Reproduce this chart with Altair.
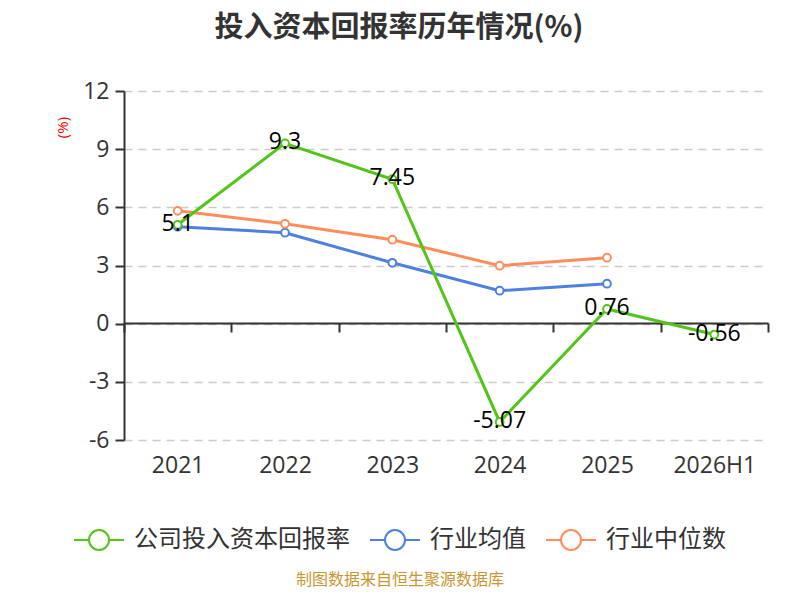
import altair as alt
import pandas as pd

years = ["2021", "2022", "2023", "2024", "2025", "2026H1"]
company = [5.1, 9.3, 7.45, -5.07, 0.76, -0.56]
company_text = ["5.1", "9.3", "7.45", "-5.07", "0.76", "-0.56"]
industry_mean = [5.0, 4.69, 3.14, 1.70, 2.06, None]
industry_median = [5.82, 5.15, 4.33, 2.99, 3.40, None]

s_company = "公司投入资本回报率"
s_mean = "行业均值"
s_median = "行业中位数"
series_order = [s_company, s_mean, s_median]
colors = ["#52C41A", "#4E80E2", "#FF8D5C"]

rows = []
for name, vals in [(s_mean, industry_mean), (s_median, industry_median), (s_company, company)]:
    for i, (y, v) in enumerate(zip(years, vals)):
        if v is not None:
            rows.append({"year": y, "value": v, "series": name,
                         "label": company_text[i] if name == s_company else ""})
df = pd.DataFrame(rows)

CJK = "Noto Sans CJK SC"
NUM = "Open Sans"

x_enc = alt.X(
    "year:N",
    sort=years,
    scale=alt.Scale(type="band", paddingInner=0, paddingOuter=0),
    axis=alt.Axis(
        title=None, labelAngle=0, labelFontSize=23, labelColor="#333333", labelFont=NUM,
        domain=True, domainColor="#333333", domainWidth=2,
        ticks=True, tickBand="extent", tickSize=9, tickWidth=2, tickColor="#333333",
        labelPadding=122, offset=-117, grid=False,
    ),
)
y_enc = alt.Y(
    "value:Q",
    scale=alt.Scale(domain=[-6, 12], nice=False, zero=False),
    axis=alt.Axis(
        values=[-6, -3, 0, 3, 6, 9, 12], labelExpr="replace(datum.label, '−', '-')",
        title="(%)", titleColor="red", titleFontSize=15,
        titleFontWeight="normal", titleFont=NUM, titleAngle=-90, titleX=-62, titleY=36,
        titleAlign="center", titleBaseline="middle",
        labelFontSize=23, labelColor="#333333", labelFont=NUM, labelPadding=6,
        domain=True, domainColor="#333333", domainWidth=2,
        tickSize=9, tickWidth=2, tickColor="#333333",
        grid=True, gridDash=[8, 6], gridColor="#cccccc", gridWidth=1.5,
    ),
)

base = alt.Chart(df)

lines = base.mark_line(strokeWidth=3).encode(
    x=x_enc, y=y_enc,
    color=alt.Color(
        "series:N",
        scale=alt.Scale(domain=series_order, range=colors),
        legend=alt.Legend(
            title=None, orient="none", direction="horizontal", legendX=-51, legendY=423,
            labelFontSize=24, labelColor="#333333", labelFont=CJK, labelLimit=400,
            symbolType="M-1,0L-0.4,0M0.4,0L1,0M0.4,0A0.4,0.4,0,1,1,-0.4,0A0.4,0.4,0,1,1,0.4,0",
            symbolSize=2500, symbolStrokeWidth=2, symbolFillColor="white",
            labelOffset=9, columnPadding=16,
        ),
    ),
    detail="series:N",
)

points = base.mark_point(filled=True, fill="white", strokeWidth=2, size=60, opacity=1).encode(
    x=x_enc, y=y_enc,
    stroke=alt.Stroke("series:N", scale=alt.Scale(domain=series_order, range=colors), legend=None),
)

labels = base.transform_filter(alt.datum.series == s_company).mark_text(
    fontSize=23, font=NUM, color="#000000", align="center", baseline="middle", dy=-1
).encode(x=x_enc, y=y_enc, text=alt.Text("label:N"))

src = alt.Chart(pd.DataFrame({"t": ["制图数据来自恒生聚源数据库"]})).mark_text(
    fontSize=16, font=CJK, color="#C9962F", align="center", baseline="middle"
).encode(x=alt.value(276), y=alt.value(489), text="t:N")

chart = alt.layer(lines, points, labels, src).properties(
    width=644, height=349,
    autosize=alt.AutoSizeParams(type="none"),
    padding={"left": 116, "top": 83, "right": 24, "bottom": 152},
    title=alt.TitleParams(
        "投入资本回报率历年情况(%)", fontSize=29, font=CJK, fontWeight="bold",
        color="#333333", anchor="middle", dx=-47, offset=37,
    ),
).configure_view(stroke=None)

chart.save("out.html", embed_options={"renderer": "svg", "actions": False})
